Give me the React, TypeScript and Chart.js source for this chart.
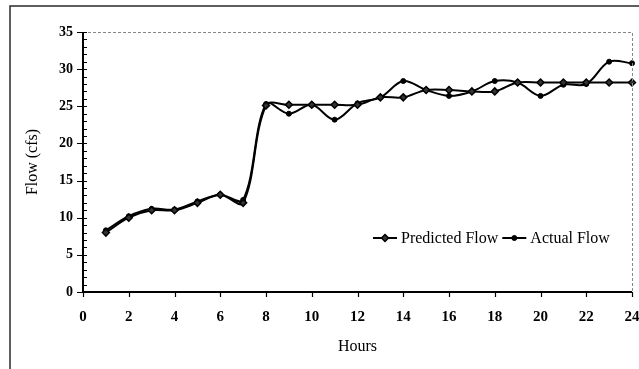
import React, { useEffect, useRef } from "react";
import { Chart, registerables } from "chart.js";

Chart.register(...registerables);

// Hourly flow series (cfs)
const hours = [1, 2, 3, 4, 5, 6, 7, 8, 9, 10, 11, 12, 13, 14, 15, 16, 17, 18, 19, 20, 21, 22, 23, 24];
const predictedFlow = [8.0, 10.0, 11.0, 11.0, 12.0, 13.1, 12.0, 25.1, 25.2, 25.2, 25.2, 25.2, 26.2, 26.2, 27.2, 27.2, 27.0, 27.0, 28.2, 28.2, 28.2, 28.2, 28.2, 28.2];
const actualFlow = [8.3, 10.2, 11.2, 11.1, 12.2, 13.1, 12.4, 25.3, 24.0, 25.2, 23.2, 25.4, 26.2, 28.4, 27.2, 26.4, 27.0, 28.4, 28.2, 26.4, 27.9, 28.0, 31.0, 30.8];
const xTickValues = [0, 2, 4, 6, 8, 10, 12, 14, 16, 18, 20, 22, 24];
const yTickValues = [0, 5, 10, 15, 20, 25, 30, 35];
const seriesNames = ["Predicted Flow", "Actual Flow"];
const xTitle = "Hours";
const yTitle = "Flow (cfs)";

const SERIF = "'Liberation Serif', 'Times New Roman', serif";

const framePlugin = {
  id: "frame",
  afterDraw(chart: any) {
    const ctx = chart.ctx;
    const area = chart.chartArea;
    const xs = chart.scales.x;
    const ys = chart.scales.y;
    ctx.save();

    // outer border (left and top)
    ctx.strokeStyle = "#2a2a2a";
    ctx.lineWidth = 1.5;
    ctx.beginPath();
    ctx.moveTo(10, chart.height);
    ctx.lineTo(10, 6);
    ctx.lineTo(chart.width, 6);
    ctx.stroke();

    // plot area top and right edges
    ctx.strokeStyle = "#888";
    ctx.lineWidth = 1;
    ctx.setLineDash([3, 2]);
    ctx.beginPath();
    ctx.moveTo(area.left, area.top + 0.5);
    ctx.lineTo(area.right + 0.5, area.top + 0.5);
    ctx.lineTo(area.right + 0.5, area.bottom);
    ctx.stroke();
    ctx.setLineDash([]);

    // axis lines
    ctx.strokeStyle = "#000";
    ctx.lineWidth = 2;
    ctx.beginPath();
    ctx.moveTo(area.left, area.top);
    ctx.lineTo(area.left, area.bottom);
    ctx.lineTo(area.right, area.bottom);
    ctx.stroke();

    // y ticks: major crossing, minor inside
    ctx.lineWidth = 1.2;
    ctx.beginPath();
    for (let v = 0; v <= 35; v += 1) {
      const y = Math.round(ys.getPixelForValue(v)) + 0.5;
      if (v % 5 === 0) {
        ctx.moveTo(area.left - 6, y);
        ctx.lineTo(area.left + 4, y);
      } else {
        ctx.moveTo(area.left, y);
        ctx.lineTo(area.left + 4, y);
      }
    }
    // x ticks: outside
    xTickValues.forEach((v) => {
      const x = Math.round(xs.getPixelForValue(v)) + 0.5;
      ctx.moveTo(x, area.bottom);
      ctx.lineTo(x, area.bottom + 5);
    });
    ctx.stroke();

    // axis titles
    ctx.fillStyle = "#000";
    ctx.font = `16px ${SERIF}`;
    ctx.textAlign = "center";
    ctx.textBaseline = "middle";
    ctx.fillText(xTitle, (area.left + area.right) / 2, 347);
    ctx.save();
    ctx.translate(33, (area.top + area.bottom) / 2);
    ctx.rotate(-Math.PI / 2);
    ctx.fillText(yTitle, 0, 0);
    ctx.restore();

    // legend inside plot area
    const ly = 238;
    let lx = 373;
    ctx.font = `16px ${SERIF}`;
    ctx.textAlign = "left";
    const drawKey = (idx: number) => {
      const ds = chart.data.datasets[idx];
      ctx.strokeStyle = "#000";
      ctx.lineWidth = 2;
      ctx.beginPath();
      ctx.moveTo(lx, ly);
      ctx.lineTo(lx + 24, ly);
      ctx.stroke();
      const cx = lx + 12;
      ctx.fillStyle = ds.pointBackgroundColor;
      ctx.strokeStyle = "#000";
      ctx.lineWidth = ds.pointBorderWidth;
      ctx.beginPath();
      if (ds.pointStyle === "rectRot") {
        const r = ds.pointRadius;
        ctx.moveTo(cx, ly - r);
        ctx.lineTo(cx + r, ly);
        ctx.lineTo(cx, ly + r);
        ctx.lineTo(cx - r, ly);
        ctx.closePath();
      } else {
        ctx.arc(cx, ly, ds.pointRadius, 0, Math.PI * 2);
      }
      ctx.fill();
      ctx.stroke();
      ctx.fillStyle = "#000";
      const label = seriesNames[idx];
      ctx.fillText(label, lx + 28, ly + 1);
      lx = lx + 28 + ctx.measureText(label).width + 4;
    };
    drawKey(0);
    drawKey(1);

    ctx.restore();
  },
};

export default function App() {
  const canvasRef = useRef<HTMLCanvasElement | null>(null);

  useEffect(() => {
    if (!canvasRef.current) return;
    const chart = new Chart(canvasRef.current, {
      type: "line",
      data: {
        datasets: [
          {
            label: seriesNames[0],
            data: hours.map((h, i) => ({ x: h, y: predictedFlow[i] })),
            borderColor: "#000",
            borderWidth: 2,
            tension: 0.35,
            pointStyle: "rectRot",
            pointRadius: 3.5,
            pointBackgroundColor: "#333",
            pointBorderColor: "#000",
            pointBorderWidth: 1.5,
            clip: false,
          } as any,
          {
            label: seriesNames[1],
            data: hours.map((h, i) => ({ x: h, y: actualFlow[i] })),
            borderColor: "#000",
            borderWidth: 2,
            tension: 0.35,
            pointStyle: "circle",
            pointRadius: 2.5,
            pointBackgroundColor: "#000",
            pointBorderColor: "#000",
            pointBorderWidth: 1,
            clip: false,
          } as any,
        ],
      },
      options: {
        responsive: false,
        animation: false,
        layout: { padding: { left: 0, right: 7, top: 32, bottom: 0 } },
        plugins: { legend: { display: false }, tooltip: { enabled: false } },
        scales: {
          x: {
            type: "linear",
            min: 0,
            max: 24,
            afterBuildTicks: (s: any) => {
              s.ticks = xTickValues.map((v) => ({ value: v }));
            },
            afterFit: (s: any) => {
              s.height = 77;
              s.paddingLeft = 0;
              s.paddingRight = 0;
            },
            grid: { display: false, drawTicks: false },
            border: { display: false },
            ticks: {
              padding: 16,
              color: "#000",
              maxRotation: 0,
              font: { family: SERIF, size: 15, weight: "bold" },
            },
          },
          y: {
            type: "linear",
            min: 0,
            max: 35,
            afterBuildTicks: (s: any) => {
              s.ticks = yTickValues.map((v) => ({ value: v }));
            },
            afterFit: (s: any) => {
              s.width = 83;
              s.paddingTop = 0;
              s.paddingBottom = 0;
            },
            grid: { display: false, drawTicks: false },
            border: { display: false },
            ticks: {
              padding: 10,
              color: "#000",
              font: { family: SERIF, size: 14, weight: "bold" },
            },
          },
        },
      },
      plugins: [framePlugin],
    });
    return () => chart.destroy();
  }, []);

  return (
    <div style={{ position: "absolute", left: 0, top: 0, width: 639, height: 369, background: "#fff" }}>
      <canvas ref={canvasRef} width={639} height={369} />
    </div>
  );
}
